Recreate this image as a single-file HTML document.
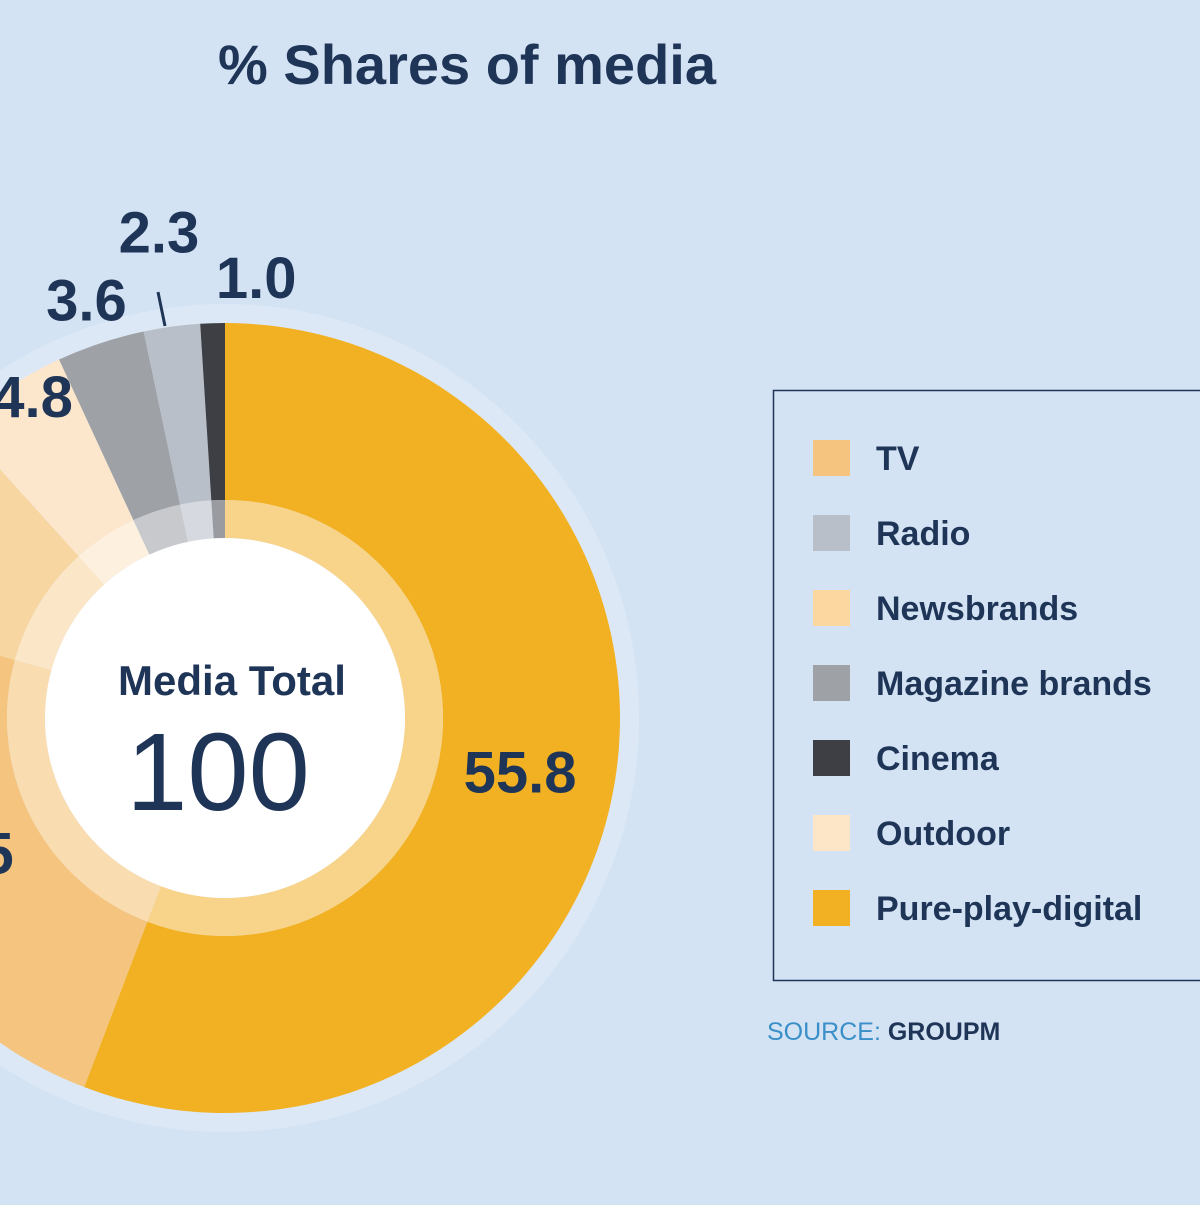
<!DOCTYPE html>
<html><head><meta charset="utf-8"><style>
html,body{margin:0;padding:0}
body{width:1200px;height:1200px;background:#d4e3f3;overflow:hidden;font-family:"Liberation Sans",Arial,sans-serif}
</style></head><body>
<svg width="1200" height="1200" viewBox="0 0 1200 1200" xmlns="http://www.w3.org/2000/svg">
<rect width="1200" height="1200" fill="#d4e3f3"/>
<text x="467" y="84" text-anchor="middle" font-size="56" font-weight="bold" fill="#1f3557">% Shares of media</text>
<circle cx="225" cy="718" r="414" fill="#dce8f5"/>
<g id="slices"></g>
<circle cx="225" cy="718" r="180" fill="#ffffff"/>
<text x="232" y="695" text-anchor="middle" font-size="42" font-weight="bold" fill="#1f3557">Media Total</text>
<text x="218" y="810" text-anchor="middle" font-size="110" fill="#1f3557">100</text>
<g id="labels"></g>
<line x1="158" y1="292" x2="165" y2="326" stroke="#1f3557" stroke-width="3"/>
<rect x="773.5" y="390.5" width="440" height="590" fill="none" stroke="#1f3557" stroke-width="1.5"/>
<g id="legend"></g>
<text x="767" y="1040" font-size="25" fill="#3a8fc8">SOURCE: <tspan font-weight="bold" fill="#1f3557">GROUPM</tspan></text>
</svg>
<script>
const categories = ["Pure-play-digital","TV","Newsbrands","Outdoor","Magazine brands","Radio","Cinema"];
const values = [55.8, 23.5, 9.0, 4.8, 3.6, 2.3, 1.0];
const valueLabels = ["55.8","23.5","9.0","4.8","3.6","2.3","1.0"];
const colors = ["#f2b122","#f5c47e","#f8d6a2","#fce6cc","#9ea1a6","#b9bfc8","#3d3f44"];
const innerColors = ["#f8d38a","#f9dcb0","#fbe6c8","#fdf0df","#c7c9cd","#d6dae0","#9a9ba0"];
const legendOrder = ["TV","Radio","Newsbrands","Magazine brands","Cinema","Outdoor","Pure-play-digital"];
const legendColors = ["#f5c47e","#b9bfc8","#fcd8a0","#9ea1a6","#3d3f44","#fde5c8","#f2b122"];

const NS="http://www.w3.org/2000/svg";
const cx=225, cy=718, rOut=395, rMid=218, rIn=180;
const total=values.reduce((a,b)=>a+b,0);
function ang(v){return v/total*2*Math.PI;}
function pt(a,r){return [cx+r*Math.sin(a), cy-r*Math.cos(a)];}
function arc(a0,a1,r0,r1){
  const large=(a1-a0)>Math.PI?1:0;
  const [x0,y0]=pt(a0,r1),[x1,y1]=pt(a1,r1),[x2,y2]=pt(a1,r0),[x3,y3]=pt(a0,r0);
  return `M${x0},${y0}A${r1},${r1} 0 ${large} 1 ${x1},${y1}L${x2},${y2}A${r0},${r0} 0 ${large} 0 ${x3},${y3}Z`;
}
const sg=document.getElementById('slices');
const lg=document.getElementById('labels');
// label positions relative to slice angle (radius factor) - labels placed outside for small slices
let acc=0;
values.forEach((v,i)=>{
  const a0=ang(acc), a1=ang(acc+v); acc+=v;
  const p=document.createElementNS(NS,'path');
  p.setAttribute('d',arc(a0,a1,rMid,rOut));
  p.setAttribute('fill',colors[i]);
  
  
  sg.appendChild(p);
  const q=document.createElementNS(NS,'path');
  q.setAttribute('d',arc(a0,a1,rIn,rMid));
  q.setAttribute('fill',innerColors[i]);
  
  
  sg.appendChild(q);
  const mid=(a0+a1)/2;
  let r = v>20 ? 300 : (v>4 ? 385 : 440);
  if(i===5) r=490;
  if(i===6) r=440;
  let [lx,ly]=pt(mid,r);
  if(i===6) lx+=45;
  if(i===3) {lx+=20;}
  const t=document.createElementNS(NS,'text');
  t.setAttribute('x',lx); t.setAttribute('y',ly+20);
  t.setAttribute('text-anchor','middle');
  t.setAttribute('font-size','58'); t.setAttribute('font-weight','bold');
  t.setAttribute('fill','#1f3557');
  t.textContent=valueLabels[i];
  
  
  lg.appendChild(t);
});
const leg=document.getElementById('legend');
legendOrder.forEach((name,i)=>{
  const y=458+i*75;
  const s=document.createElementNS(NS,'rect');
  s.setAttribute('x',813); s.setAttribute('y',y-18); s.setAttribute('width',37); s.setAttribute('height',36);
  s.setAttribute('fill',legendColors[i]);
  
  
  leg.appendChild(s);
  const t=document.createElementNS(NS,'text');
  t.setAttribute('x',876); t.setAttribute('y',y+12);
  t.setAttribute('font-size','34'); t.setAttribute('font-weight','bold'); t.setAttribute('fill','#1f3557');
  t.textContent=name;
  
  
  leg.appendChild(t);
});
</script>
</body></html>
